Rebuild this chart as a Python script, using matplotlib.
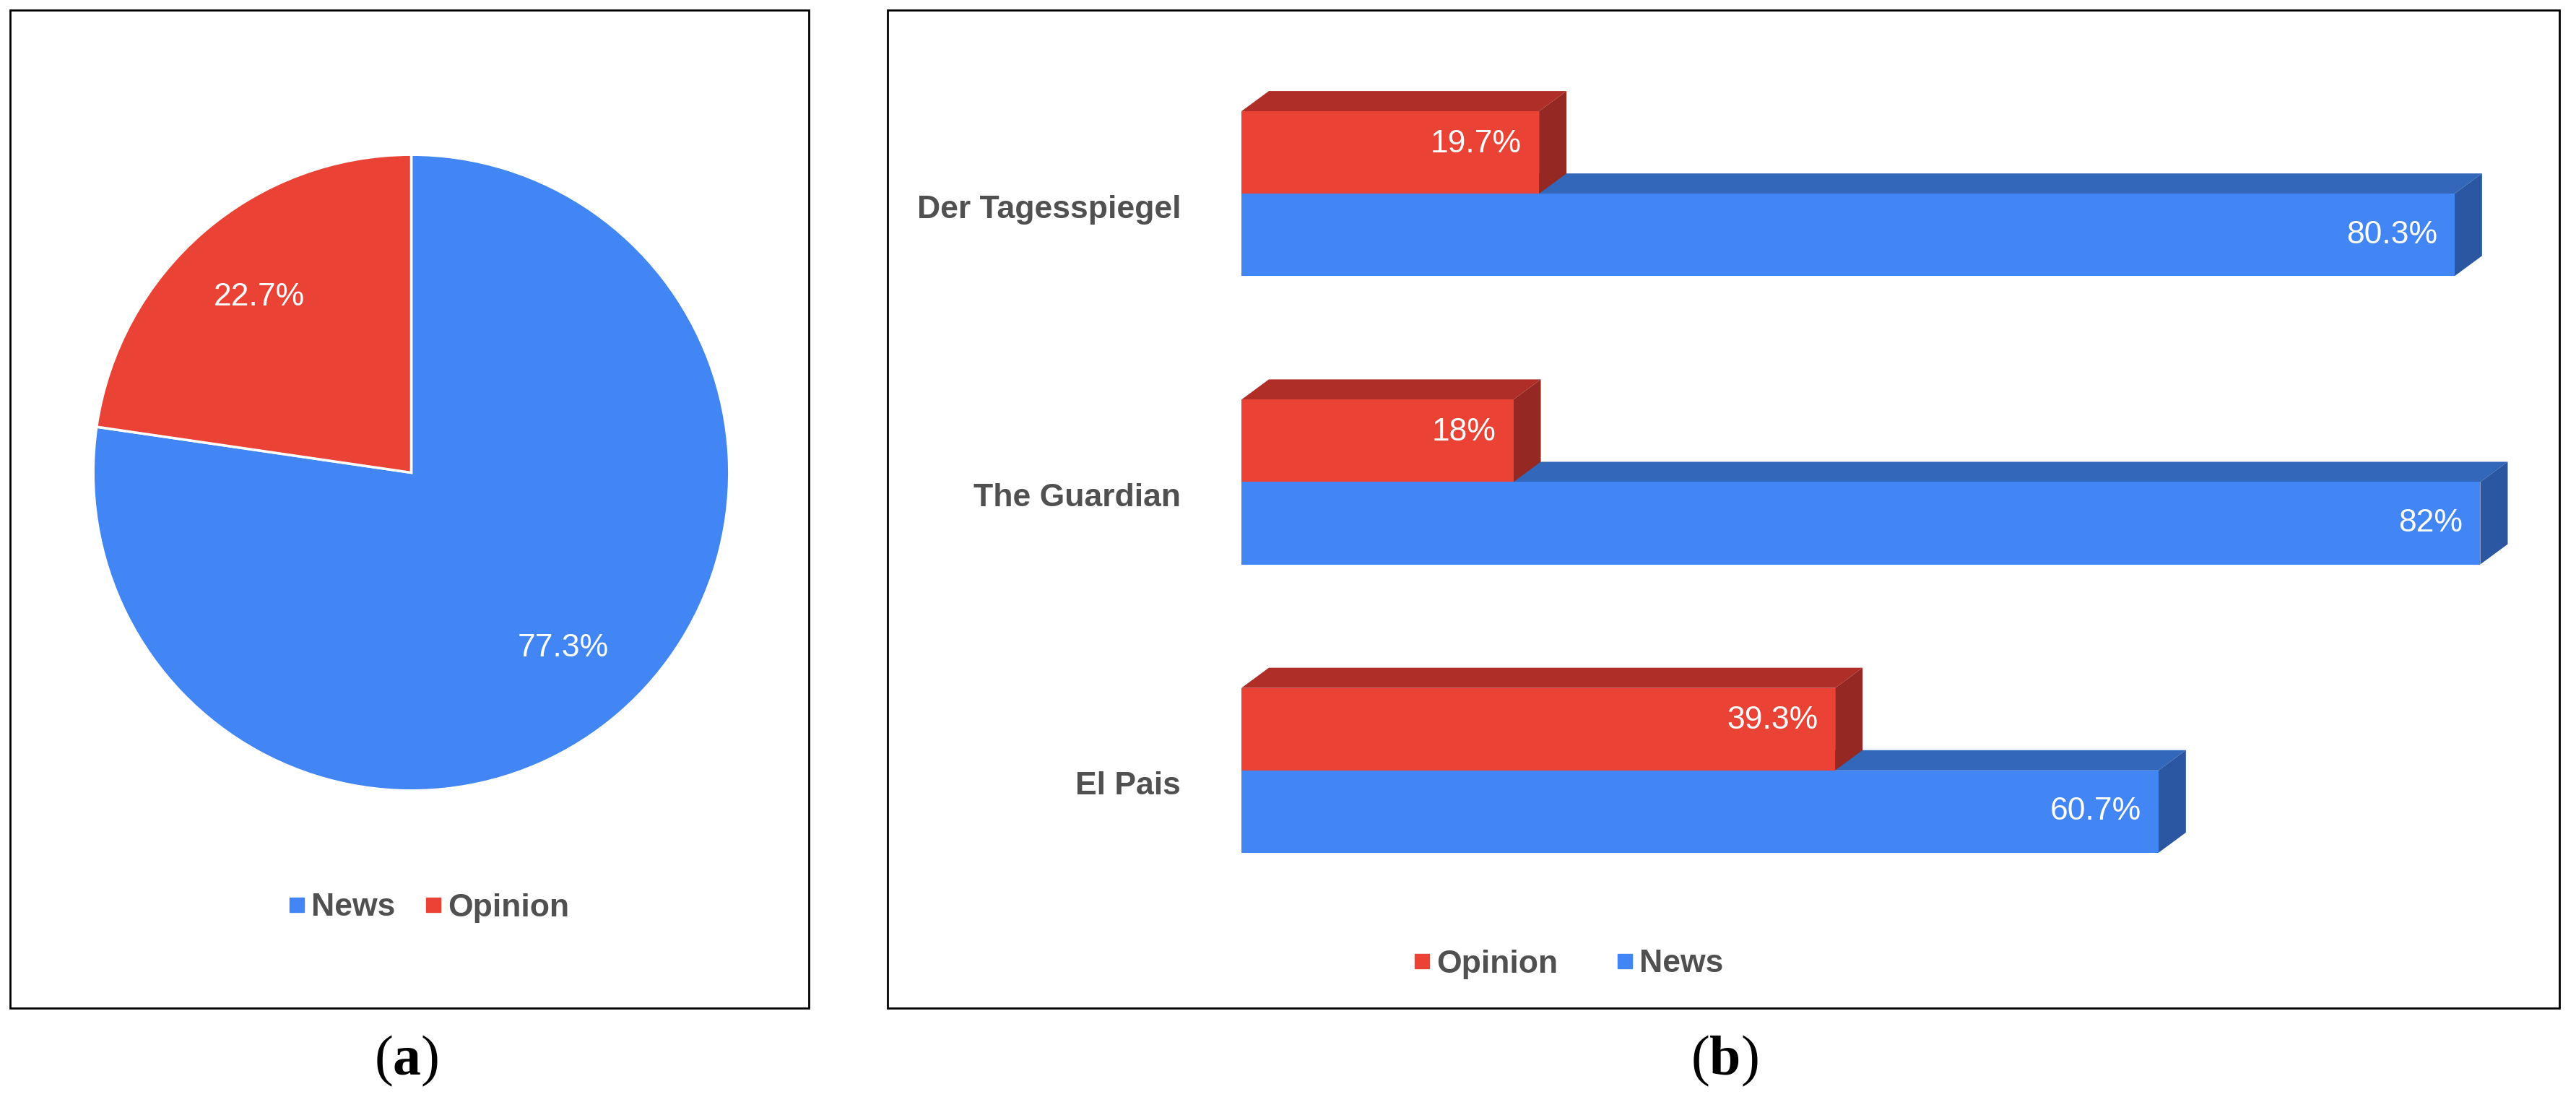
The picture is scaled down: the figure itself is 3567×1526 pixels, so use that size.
import numpy as np
import matplotlib.pyplot as plt
from matplotlib.patches import Polygon, Rectangle
from matplotlib.lines import Line2D

plt.rcParams['font.family'] = ['Liberation Sans', 'DejaVu Sans']
plt.rcParams['mathtext.fontset'] = 'custom'
plt.rcParams['mathtext.rm'] = 'Liberation Serif'
plt.rcParams['mathtext.bf'] = 'Liberation Serif:bold'

#%% data
pie_labels = ['News', 'Opinion']
pie_values = [77.3, 22.7]

papers = ['Der Tagesspiegel', 'The Guardian', 'El Pais']
opinion = [19.7, 18.0, 39.3]
news = [80.3, 82.0, 60.7]
opinion_txt = ['19.7%', '18%', '39.3%']
news_txt = ['80.3%', '82%', '60.7%']

#%% colours
blue, red = '#4285F4', '#EA4335'
blue_top, blue_side = '#3367B9', '#2B56A1'
red_top, red_side = '#AF2E27', '#952822'
grey = '#505050'

W, H = 3567, 1526
fig = plt.figure(figsize=(W/100, H/100), dpi=100)

def px_box(x0, y0, x1, y1):
    # pixel box (from top-left) -> figure fraction rect
    return [x0/W, 1 - y1/H, (x1 - x0)/W, (y1 - y0)/H]

# panel frames
for x0, x1 in [(14, 1120), (1229, 3544)]:
    fig.add_artist(Rectangle((x0/W, 1 - 1396/H), (x1 - x0)/W, (1396 - 14)/H,
                             transform=fig.transFigure, fill=False, ec='black', lw=2))

#%% (a) pie
ax1 = fig.add_axes(px_box(127, 212, 1012, 1097))
ax1.pie(pie_values, colors=[blue, red], startangle=90, counterclock=False,
        autopct='%.1f%%', pctdistance=0.73,
        wedgeprops=dict(edgecolor='white', linewidth=2.5),
        textprops=dict(color='white', fontsize=32))
ax1.set_xlim(-1.005, 1.005)
ax1.set_ylim(-1.005, 1.005)

def handles(cols):
    return [Line2D([], [], marker='s', ls='', color=c, markersize=14) for c in cols]

fig.legend(handles([blue, red]), pie_labels, loc='center', bbox_to_anchor=(594/W, 1 - 1257/H),
           ncol=2, frameon=False, prop=dict(size=32, weight='bold'), labelcolor=grey,
           handlelength=0.5, handletextpad=0.2, columnspacing=0.95)

#%% (b) 3d-looking bars
ax2 = fig.add_axes(px_box(1719, 14, 3544, 1396))
xscale = 20.92   # px per percent
unit = 399.0     # px per category
ax2.set_xlim(0, (3544 - 1719)/xscale)
ax2.set_ylim(2 + (1396 - 1067)/unit, -(268 - 14)/unit)
ax2.axis('off')

h = 114/unit
dx = 38/xscale
dy = 28/unit
y = np.arange(len(papers))

def top_face(v, yt, c, z):
    ax2.add_patch(Polygon([(0, yt), (dx, yt - dy), (v + dx, yt - dy), (v, yt)],
                          closed=True, fc=c, ec='none', zorder=z))

def side_face(v, yt, yb, c, z):
    ax2.add_patch(Polygon([(v, yt), (v + dx, yt - dy), (v + dx, yb - dy), (v, yb)],
                          closed=True, fc=c, ec='none', zorder=z))

for i in range(len(papers)):
    top_face(news[i], y[i], blue_top, 1)
    top_face(opinion[i], y[i] - h, red_top, 3)
    side_face(opinion[i], y[i] - h, y[i], red_side, 3)
    side_face(news[i], y[i], y[i] + h, blue_side, 2)

ax2.barh(y - h/2, opinion, height=h, color=red, zorder=3)
ax2.barh(y + h/2, news, height=h, color=blue, zorder=2)

pad = 24/xscale
for i in range(len(papers)):
    ax2.text(opinion[i] - pad, y[i] - h/2 - 12/unit, opinion_txt[i], ha='right', va='center',
             color='white', fontsize=32, zorder=5)
    ax2.text(news[i] - pad, y[i] + h/2, news_txt[i], ha='right', va='center',
             color='white', fontsize=32, zorder=5)
    ax2.text(-(1719 - 1635)/xscale, y[i] + 22/unit, papers[i], ha='right', va='center',
             color=grey, fontsize=32, fontweight='bold', clip_on=False)

fig.legend(handles([red, blue]), ['Opinion', 'News'], loc='center', bbox_to_anchor=(2172/W, 1 - 1335/H),
           ncol=2, frameon=False, prop=dict(size=32, weight='bold'), labelcolor=grey,
           handlelength=0.5, handletextpad=0.2, columnspacing=1.85)

# panel letters
fig.text(563/W, 1 - 1469/H, r'($\mathbf{a}$)', ha='center', va='center', fontsize=56, family='Liberation Serif')
fig.text(2388/W, 1 - 1469/H, r'($\mathbf{b}$)', ha='center', va='center', fontsize=56, family='Liberation Serif')

fig.savefig('out.png', dpi=100)
